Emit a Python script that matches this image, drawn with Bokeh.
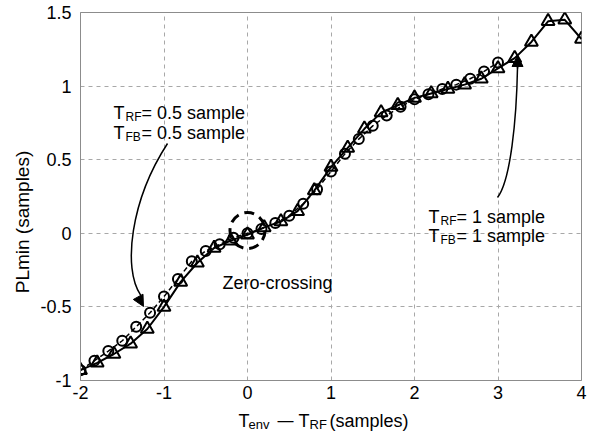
import math
from bokeh.plotting import figure
from bokeh.layouts import row, column
from bokeh.models import Label, Arrow, NormalHead, FixedTicker, Range1d, CustomJSTickFormatter
from bokeh.embed import file_html
from bokeh.resources import INLINE

# ---- data ----
tri_x = [-2.0, -1.8, -1.6, -1.4, -1.2, -1.0, -0.8, -0.6, -0.4, -0.2, 0.0, 0.2, 0.4, 0.6, 0.8,
         1.0, 1.2, 1.4, 1.6, 1.8, 2.0, 2.2, 2.4, 2.6, 2.8, 3.0, 3.2, 3.4, 3.6, 3.8, 4.0]
tri_y = [-0.93, -0.88, -0.82, -0.75, -0.65, -0.50, -0.33, -0.20, -0.10, -0.05, -0.01, 0.04, 0.08, 0.15, 0.29,
         0.45, 0.58, 0.71, 0.82, 0.87, 0.92, 0.95, 0.98, 1.01, 1.05, 1.12, 1.19, 1.30, 1.44, 1.45, 1.32]
circ_x = [-2.0, -1.833, -1.667, -1.5, -1.333, -1.167, -1.0, -0.833, -0.667, -0.5, -0.333, -0.167, 0.0,
          0.167, 0.333, 0.5, 0.667, 0.833, 1.0, 1.167, 1.333, 1.5, 1.667, 1.833, 2.0, 2.167, 2.333, 2.5,
          2.667, 2.833, 3.0]
circ_y = [-0.93, -0.865, -0.80, -0.73, -0.635, -0.54, -0.43, -0.31, -0.19, -0.12, -0.075, -0.03, 0.0,
          0.03, 0.07, 0.12, 0.20, 0.30, 0.42, 0.54, 0.64, 0.73, 0.80, 0.86, 0.91, 0.945, 0.98, 1.01,
          1.05, 1.10, 1.16]
x_ticks = [-2, -1, 0, 1, 2, 3, 4]
y_ticks = [-1, -0.5, 0, 0.5, 1, 1.5]

FONT = "Liberation Sans"
GRID = "#a8a8a8"
BOX = "#8c8c8c"

LEFT_W = 36
MAIN_H = 404
XLAB_H = 30

p = figure(width=605 - LEFT_W, height=MAIN_H, x_range=Range1d(-2, 4), y_range=Range1d(-1, 1.5),
           output_backend="svg", toolbar_location=None,
           min_border_left=80 - LEFT_W, min_border_right=24, min_border_top=12, min_border_bottom=MAIN_H - 380)
p.background_fill_color = "white"
p.border_fill_color = "white"
p.outline_line_color = BOX
p.outline_line_width = 1

fmt = CustomJSTickFormatter(code="return tick.toString();")
p.xaxis.ticker = FixedTicker(ticks=x_ticks)
p.yaxis.ticker = FixedTicker(ticks=y_ticks)
for ax in (p.xaxis[0], p.yaxis[0]):
    ax.formatter = fmt
    ax.major_tick_out = 0
    ax.major_tick_in = 0
    ax.minor_tick_out = 0
    ax.minor_tick_in = 0
    ax.axis_line_color = BOX
    ax.major_label_text_font = FONT
    ax.major_label_text_font_size = "18px"
    ax.major_label_text_color = "black"
p.xaxis.major_label_standoff = 5
p.yaxis.major_label_standoff = 9

for g in (p.xgrid[0], p.ygrid[0]):
    g.grid_line_color = GRID
    g.grid_line_dash = "4 4"
    g.grid_line_width = 1
p.xgrid.ticker = FixedTicker(ticks=x_ticks)
p.ygrid.ticker = FixedTicker(ticks=y_ticks)

# series
p.line(circ_x, circ_y, line_color="black", line_width=1.5, line_dash="5 3")
p.scatter(circ_x, circ_y, marker="circle", size=10, fill_color=None, line_color="black", line_width=2)
p.line(tri_x, tri_y, line_color="black", line_width=2)
p.scatter(tri_x, tri_y, marker="triangle", size=13, fill_color=None, line_color="black", line_width=2)

# zero-crossing ellipse
p.ellipse(x=[0.0], y=[0.019], width=0.42, height=0.245, fill_color=None,
          line_color="black", line_width=3, line_dash="10 6")


def lab(fig, x, y, text, size="18px", xo=0, yo=0, **kw):
    fig.add_layout(Label(x=x, y=y, text=text, x_offset=xo, y_offset=yo, text_font=FONT,
                         text_font_size=size, text_color="black", **kw))


# annotation 1
for yy, sub in ((0.814, "RF"), (0.678, "FB")):
    lab(p, -1.605, yy, "T", text_baseline="alphabetic")
    lab(p, -1.605, yy, sub, size="12px", xo=12, yo=-4, text_baseline="alphabetic")
    lab(p, -1.605, yy, "= 0.5 sample", xo=28, text_baseline="alphabetic")
# annotation 2
for yy, sub in ((0.114, "RF"), (-0.015, "FB")):
    lab(p, 2.168, yy, "T", text_baseline="alphabetic")
    lab(p, 2.168, yy, sub, size="12px", xo=12, yo=-4, text_baseline="alphabetic")
    lab(p, 2.168, yy, "= 1 sample", xo=28, text_baseline="alphabetic")
lab(p, -0.30, -0.34, "Zero-crossing", text_baseline="alphabetic")

# curved arrows
p.bezier(x0=[-0.958], y0=[0.610], x1=[-1.280], y1=[-0.420],
         cx0=[-1.401], cy0=[0.223], cx1=[-1.497], cy1=[-0.239], line_color="black", line_width=1.5)
p.add_layout(Arrow(x_start=-1.305, y_start=-0.436, x_end=-1.246, y_end=-0.497, line_width=1.5,
                   end=NormalHead(size=11, fill_color="black", line_color="black")))
p.bezier(x0=[2.994], y0=[0.243], x1=[3.234], y1=[1.133],
         cx0=[3.150], cy0=[0.359], cx1=[3.222], cy1=[0.766], line_color="black", line_width=1.5)
p.add_layout(Arrow(x_start=3.234, y_start=1.12, x_end=3.234, y_end=1.208, line_width=1.5,
                   end=NormalHead(size=11, fill_color="black", line_color="black")))


def blank(w, h):
    f = figure(width=w, height=h, x_range=Range1d(0, w), y_range=Range1d(0, h),
               output_backend="svg", toolbar_location=None,
               min_border=0, min_border_left=0, min_border_right=0, min_border_top=0, min_border_bottom=0)
    f.axis.visible = False
    f.grid.visible = False
    f.outline_line_color = None
    f.background_fill_color = "white"
    f.border_fill_color = "white"
    return f


# y-axis label (separate strip on the left)
yl = blank(LEFT_W, MAIN_H)
lab(yl, 22, MAIN_H - 230, "PLmin (samples)", size="19px", angle=math.pi / 2,
    text_align="center", text_baseline="middle")

# x-axis label (separate strip below)
xl = blank(605, XLAB_H)
BL = 434 - 420
lab(xl, 238, BL, "T", text_baseline="alphabetic")
lab(xl, 248, BL - 4, "env", size="13px", text_baseline="alphabetic")
lab(xl, 277, BL, "\u2014", size="16px", text_baseline="alphabetic")
lab(xl, 298, BL, "T", text_baseline="alphabetic")
lab(xl, 309, BL - 4, "RF", size="13px", text_baseline="alphabetic")
lab(xl, 329, BL, "(samples)", text_baseline="alphabetic")

layout = column(row(yl, p, spacing=0), xl, spacing=0)
open("out.html", "w").write(file_html(layout, INLINE))
